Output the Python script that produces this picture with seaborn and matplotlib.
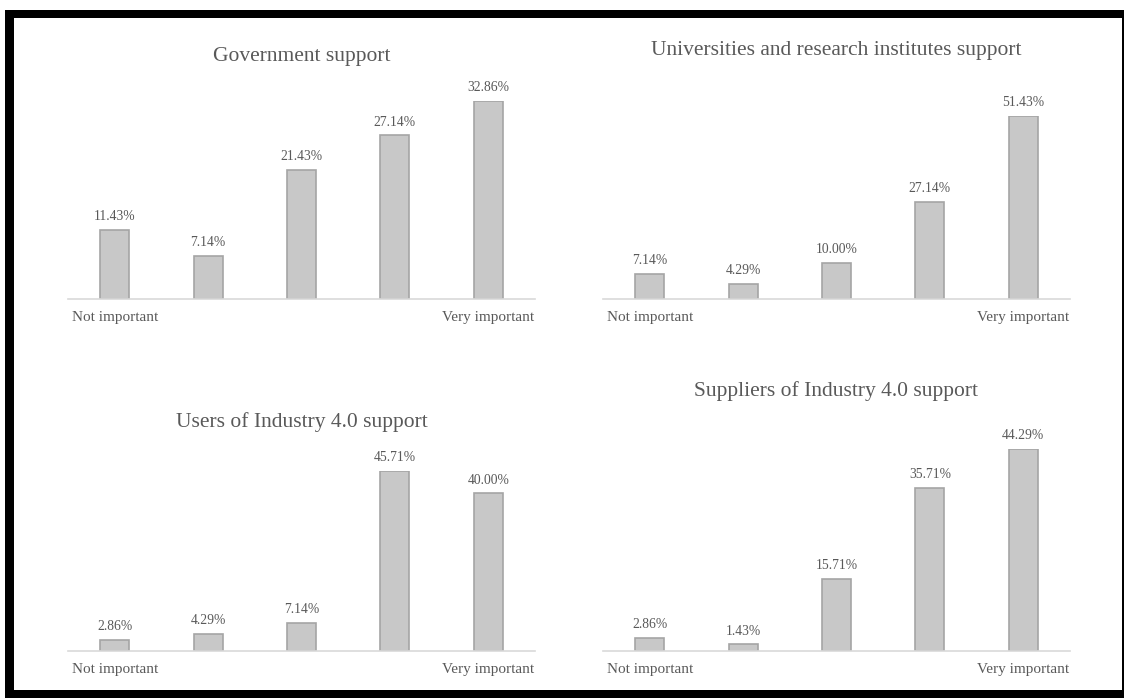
import matplotlib.pyplot as plt
import matplotlib.patches as mpatches
import seaborn as sns
import pandas as pd

# survey answers, 1 = not important ... 5 = very important
levels = [1, 2, 3, 4, 5]
level_labels = ["Not important", "", "", "", "Very important"]

titles = ["Government support",
          "Universities and research institutes support",
          "Users of Industry 4.0 support",
          "Suppliers of Industry 4.0 support"]
government = [11.43, 7.14, 21.43, 27.14, 32.86]
universities = [7.14, 4.29, 10.00, 27.14, 51.43]
users = [2.86, 4.29, 7.14, 45.71, 40.00]
suppliers = [2.86, 1.43, 15.71, 35.71, 44.29]

series = [government, universities, users, suppliers]

W, H = 1125, 698
sns.set_theme(style="white")
plt.rcParams["font.family"] = ["Liberation Serif", "DejaVu Serif"]
txt = "#595959"

fig = plt.figure(figsize=(W / 100, H / 100), dpi=100)

# pixel boxes: left, right, baseline, top of tallest bar, title y
boxes = [(68, 535, 299, 101, 56),
         (603, 1070, 299, 116, 50),
         (68, 535, 651, 471, 422),
         (603, 1070, 651, 449, 391)]

for title, vals, (x0, x1, yb, yt, ty) in zip(titles, series, boxes):
    ax = fig.add_axes([x0 / W, (H - yb) / H, (x1 - x0) / W, (yb - yt) / H])
    df = pd.DataFrame({"level": levels, "share": vals})
    sns.barplot(data=df, x="level", y="share", ax=ax, width=0.31,
                color="#c8c8c8", edgecolor="#a5a5a5", linewidth=1.2,
                saturation=1)
    ax.set_ylim(0, max(vals))
    ax.set_xlim(-0.5, 4.5)
    for p, v in zip(ax.patches, vals):
        ax.annotate(f"{v:.2f}%", (p.get_x() + p.get_width() / 2, p.get_height()),
                    xytext=(0, 5), textcoords="offset points",
                    ha="center", va="bottom", fontsize=9.8, color=txt,
                    annotation_clip=False)
    ax.set_xticks(range(5))
    ax.set_xticklabels(level_labels, fontsize=11, color=txt)
    ax.tick_params(axis="x", length=0, pad=9)
    ax.set_yticks([])
    ax.set_xlabel("")
    ax.set_ylabel("")
    for s in ["left", "right", "top"]:
        ax.spines[s].set_visible(False)
    ax.spines["bottom"].set_color("#d9d9d9")
    ax.spines["bottom"].set_linewidth(1.2)
    fig.text((x0 + x1) / 2 / W, 1 - ty / H, title, ha="center", va="center",
             fontsize=15.5, color=txt)

# black frame around the figure
for (fx, fy, fw, fh) in [(5, 10, 1119, 8), (5, 10, 9, 688), (5, 690, 1119, 8), (1122, 10, 2, 688)]:
    fig.add_artist(mpatches.Rectangle((fx / W, 1 - (fy + fh) / H), fw / W, fh / H,
                                      transform=fig.transFigure, color="black", lw=0))

plt.savefig("out.png", dpi=100)
